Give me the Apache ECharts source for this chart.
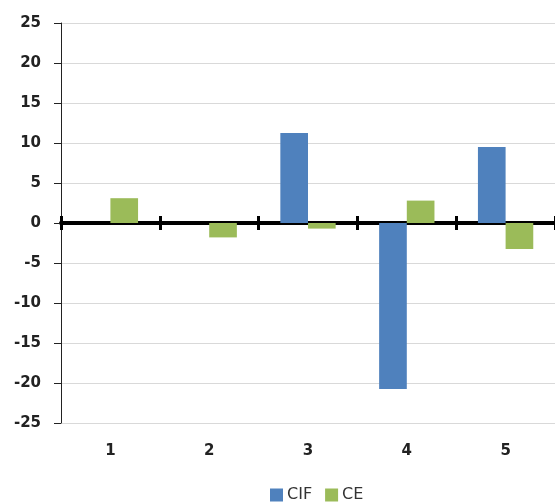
<!DOCTYPE html>
<html>
<head>
<meta charset="utf-8">
<script src="https://cdn.jsdelivr.net/npm/echarts@6/dist/echarts.min.js"></script>
<style>
html, body { margin: 0; padding: 0; background: #fff; }
#main { width: 555px; height: 504px; }
</style>
</head>
<body>
<div id="main"></div>
<script>
var categories = ['1', '2', '3', '4', '5'];
var cifValues = [0, 0, 11.25, -20.75, 9.5];
var ceValues = [3.1, -1.8, -0.7, 2.8, -3.25];
var yTicks = { min: -25, max: 25, interval: 5 };

var labelFont = 'DejaVu Sans';

var myChart = echarts.init(document.getElementById('main'));
myChart.setOption({
    animation: false,
    grid: {
        left: 61,
        top: 23,
        width: 500,
        height: 400
    },
    legend: {
        data: ['CIF', 'CE'],
        left: 270,
        top: 487,
        padding: 0,
        itemWidth: 13,
        itemHeight: 13,
        itemGap: 13,
        icon: 'rect',
        textStyle: {
            fontFamily: labelFont,
            fontSize: 16,
            color: '#333',
            padding: [0, 0, 0, -1]
        }
    },
    xAxis: [{
        // zero line with ticks going down
        type: 'category',
        data: categories,
        axisLine: { onZero: true, lineStyle: { color: '#000', width: 4 } },
        axisTick: { show: true, inside: false, length: 7, lineStyle: { color: '#000', width: 3 } },
        axisLabel: { show: false },
        splitLine: { show: false }
    }, {
        // same line, ticks going up (sits on zero of the hidden copy of the y axis)
        type: 'category',
        data: categories,
        position: 'top',
        axisLine: { show: false, onZero: true, onZeroAxisIndex: 1 },
        axisTick: { show: true, inside: false, length: 7, lineStyle: { color: '#000', width: 3 } },
        axisLabel: { show: false }
    }, {
        // labels at the bottom
        type: 'category',
        data: categories,
        position: 'bottom',
        axisLine: { show: false, onZero: false },
        axisTick: { show: false },
        axisLabel: {
            margin: 21,
            fontFamily: labelFont,
            fontWeight: 'bold',
            fontSize: 15,
            color: '#222'
        }
    }],
    yAxis: [{
        type: 'value',
        min: yTicks.min,
        max: yTicks.max,
        interval: yTicks.interval,
        axisLine: { show: true, lineStyle: { color: '#222', width: 1 } },
        axisTick: { show: true, length: 7, lineStyle: { color: '#222' } },
        axisLabel: {
            margin: 20,
            fontFamily: labelFont,
            fontWeight: 'bold',
            fontSize: 15,
            color: '#222'
        },
        splitLine: { lineStyle: { color: '#d9d9d9', width: 1 } }
    }, {
        type: 'value',
        min: yTicks.min,
        max: yTicks.max,
        interval: yTicks.interval,
        position: 'left',
        axisLine: { show: false },
        axisTick: { show: false },
        axisLabel: { show: false },
        splitLine: { show: false }
    }],
    series: [{
        name: 'CIF',
        type: 'bar',
        xAxisIndex: 0,
        data: cifValues,
        barGap: '0%',
        barCategoryGap: '44%',
        itemStyle: { color: '#4f81bd' },
        z: 1
    }, {
        name: 'CE',
        type: 'bar',
        xAxisIndex: 0,
        data: ceValues,
        barGap: '0%',
        barCategoryGap: '44%',
        itemStyle: { color: '#9bbb59' },
        z: 1
    }]
});
</script>
</body>
</html>
